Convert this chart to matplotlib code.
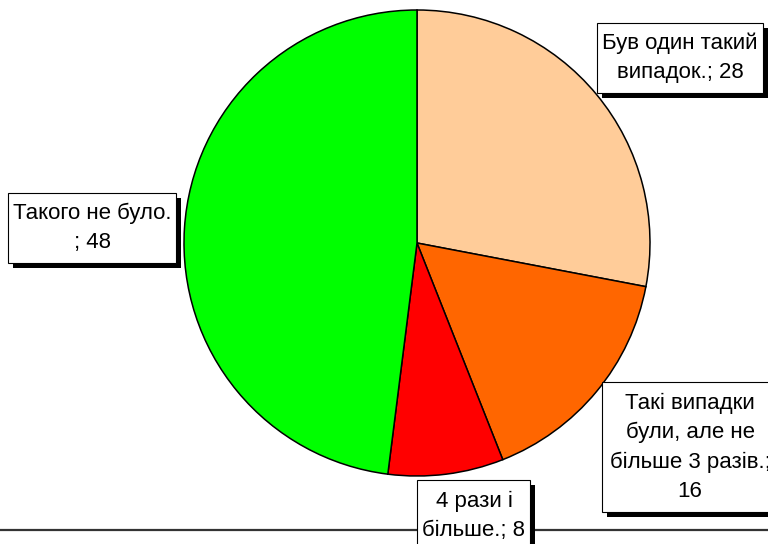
import matplotlib
matplotlib.use("Agg")
import matplotlib.pyplot as plt
from matplotlib.patches import Rectangle

plt.rcParams['font.family'] = ['Liberation Sans', 'DejaVu Sans']

categories = ["Був один такий\nвипадок.", "Такі випадки\nбули, але не\nбільше 3 разів.", "4 рази і\nбільше.", "Такого не було."]
values = [28, 16, 8, 48]
colors = ["#FFCC99", "#FF6600", "#FF0000", "#00FF00"]
separators = ["; ", ";\n", "; ", "\n; "]

W, H = 768, 544
fig = plt.figure(figsize=(W / 100, H / 100), dpi=100)
ax = fig.add_axes([0, 0, 1, 1])

cx, cy, r = 417, H - 243, 233
ax.pie(values, colors=colors, startangle=90, counterclock=False,
       center=(cx, cy), radius=r, frame=True,
       wedgeprops=dict(edgecolor='black', linewidth=1.1))
ax.set_xlim(0, W)
ax.set_ylim(0, H)
ax.set_aspect('equal')
ax.axis('off')

# bottom line
ax.plot([0, W], [H - 530, H - 530], color='#333333', lw=1.6, zorder=1,
        solid_capstyle='butt')

# label boxes (x0, top, x1, bottom) in pixels from top-left, and text centres
boxes = [(597, 23, 763, 93), (602, 382, 778, 512), (417, 480, 530, 562), (8, 193, 176, 263)]
text_c = [(680, 58), (690, 447), (474, 516), (92, 228)]
sh = 5
for cat, val, sep, (x0, t, x1, b), (tx, ty) in zip(categories, values, separators, boxes, text_c):
    ax.add_patch(Rectangle((x0 + sh, H - b - sh), x1 - x0, b - t, fc='black',
                           ec='black', lw=0, zorder=5))
    ax.add_patch(Rectangle((x0, H - b), x1 - x0, b - t, fc='white',
                           ec='black', lw=0.8, zorder=6))
    ax.text(tx, H - ty, f"{cat}{sep}{val}", ha='center', va='center',
            fontsize=16, linespacing=1.5, multialignment='center',
            color='black', zorder=7)

fig.savefig("out.png", dpi=100)
